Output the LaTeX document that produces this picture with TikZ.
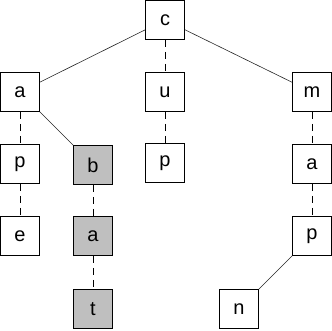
\documentclass[tikz,border=0pt]{standalone}
\usepackage{fontspec}
\setmainfont{Liberation Sans}
\usepackage{tikz}
\usetikzlibrary{positioning}

\begin{document}
\begin{tikzpicture}[
    x=1pt, y=-1pt,
    letter/.style={draw, fill=white, minimum size=39pt, inner sep=0pt,
                   font=\fontsize{20}{24}\selectfont, line width=0.8pt},
    hit/.style={letter, fill=black!25},
    child/.style={line width=0.6pt, draw=black!85},
    next/.style={line width=0.8pt, dash pattern=on 7pt off 5pt}
  ]
  \useasboundingbox (0,0) rectangle (332,330);

  % top level
  \node[letter] (c) at (165,20) {c};
  \node[letter] (a) at (20,92) {a};
  \node[letter] (u) at (165,92) {u};
  \node[letter] (m) at (312,92) {m};

  % second level
  \node[letter] (ap) at (20,164) {p};
  \node[hit] (ab) at (93,165) {b};
  \node[letter] (up) at (165,163) {p};
  \node[letter] (ma) at (312,164) {a};

  % third level
  \node[letter] (ape) at (20,236) {e};
  \node[hit] (aba) at (93,236) {a};
  \node[letter] (map) at (312,236) {p};

  % fourth level
  \node[hit] (abat) at (93,309) {t};
  \node[letter] (mapn) at (239,309) {n};

  \draw[child] (c) -- (a);
  \draw[child] (c) -- (m);
  \draw[child] (a) -- (ab);
  \draw[child] (map) -- (mapn);

  \draw[next] (c) -- (u);
  \draw[next] (a) -- (ap);
  \draw[next] (ap) -- (ape);
  \draw[next] (u) -- (up);
  \draw[next] (ab) -- (aba);
  \draw[next] (aba) -- (abat);
  \draw[next] (m) -- (ma);
  \draw[next] (ma) -- (map);
\end{tikzpicture}
\end{document}
